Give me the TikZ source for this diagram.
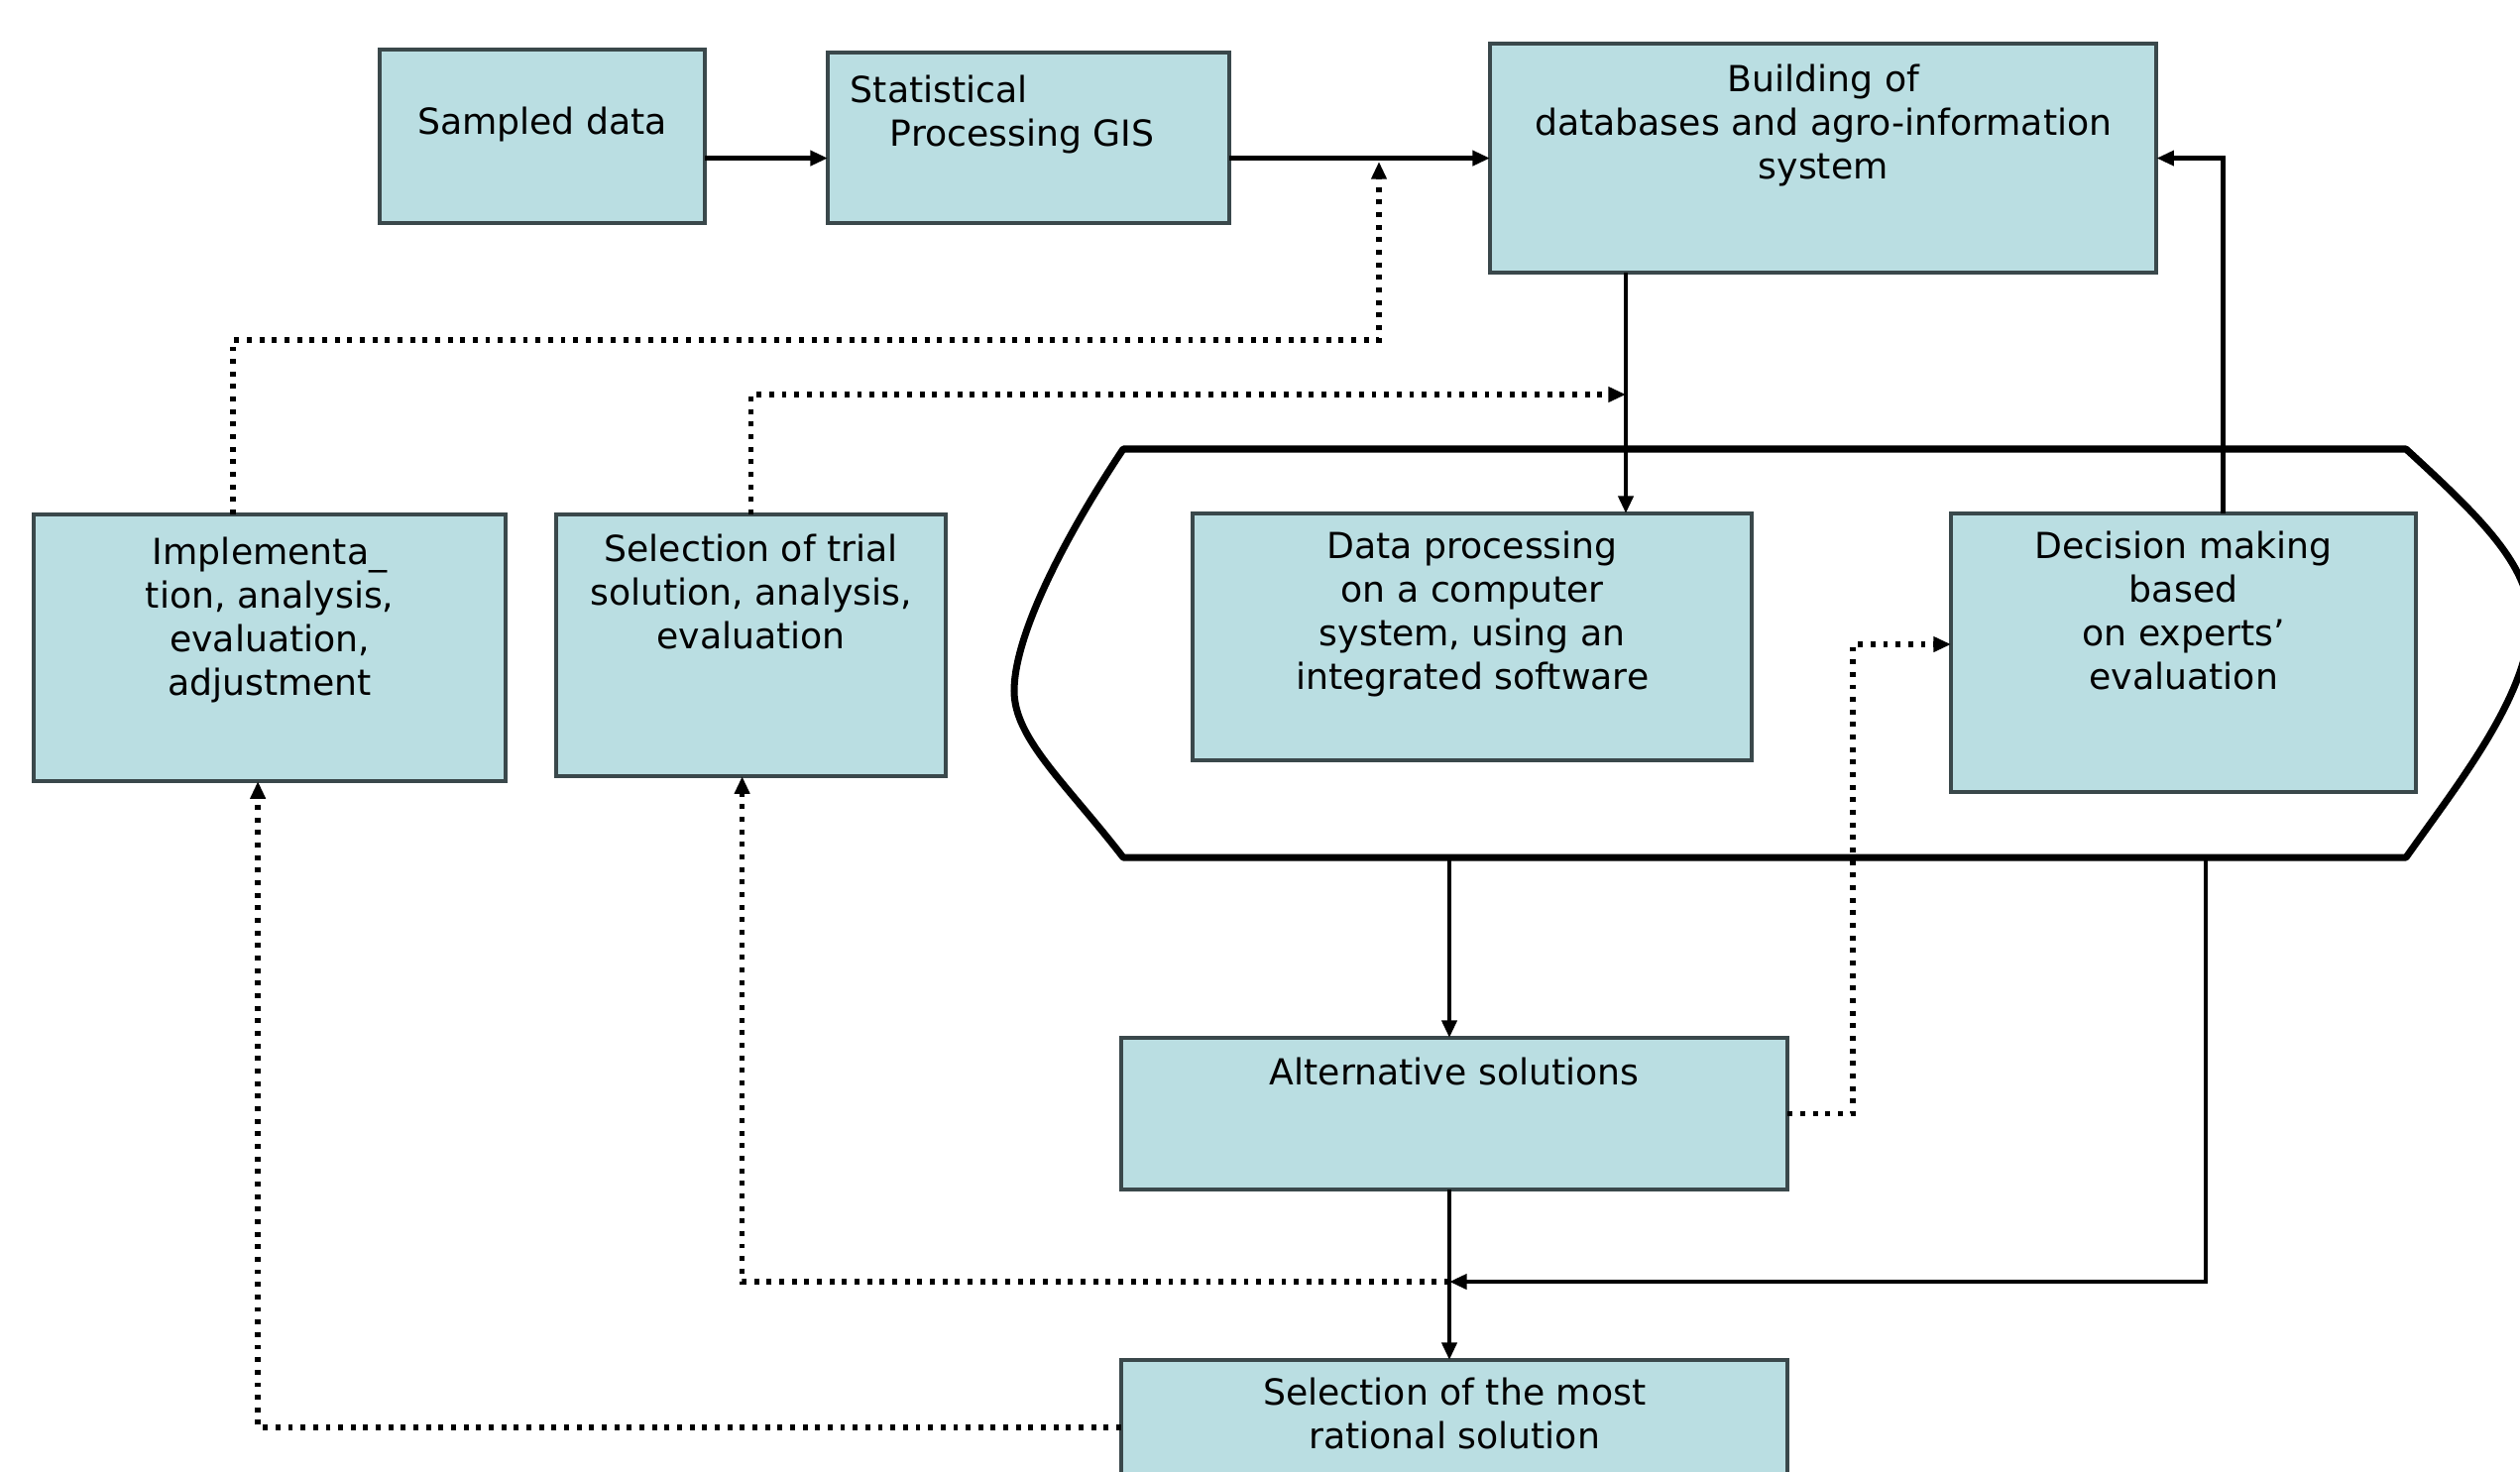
\documentclass[tikz,border=0pt]{standalone}
\usepackage{fontspec}
\setmainfont{DejaVu Sans}
\usetikzlibrary{arrows.meta}
\definecolor{cajaazul}{RGB}{186,222,226}
\definecolor{bordecaja}{RGB}{58,72,75}

\begin{document}
\begin{tikzpicture}[x=0.01cm, y=-0.01cm,
        caja/.style={draw=bordecaja, line width=1.1pt, fill=cajaazul,
            inner sep=0pt, outer sep=0pt, anchor=north west},
        texto/.style={inner sep=0pt, align=center, anchor=north,
            font=\fontsize{10.3}{12.5}\selectfont},
        flecha/.style={line width=1.4pt, -{Triangle[length=5pt,width=4.2pt]}},
        punteado/.style={line width=1.6pt, dash pattern=on 1.4pt off 2.2pt,
            -{Triangle[length=5pt,width=4.2pt]}}]
        % Fija el marco de la figura.
        \useasboundingbox (0,0) rectangle (2542,1484);
        \clip (0,0) rectangle (2542,1484);

        % Dibuja las cajas de la fila superior.
        \node[caja, minimum width=3.28cm, minimum height=1.75cm,
            label={[texto, yshift=-16.2pt]north:Sampled data}] (sampled) at (383,50) {};
        \node[caja, minimum width=4.05cm, minimum height=1.72cm,
            label={[texto, align=left, anchor=north west, xshift=6.3pt, yshift=-6.4pt]north west:{Statistical\\\hspace{11.4pt}Processing GIS}}] (stat) at (835,53) {};
        \node[caja, minimum width=6.72cm, minimum height=2.31cm,
            label={[texto, yshift=-5.7pt]north:{Building of\\databases and agro-information\\system}}] (db) at (1503,44) {};

        % Dibuja el contorno que agrupa el procesamiento y la decisión.
        \coordinate (gtl) at (1133,453);
        \coordinate (gtr) at (2427,453);
        \coordinate (gbr) at (2427,865);
        \coordinate (gbl) at (1133,865);
        \draw[line width=2pt, line join=round] (gtl) -- (gtr)
            .. controls (2500,520) and (2552,570) .. (2552,625)
            .. controls (2552,700) and (2480,790) .. (gbr) -- (gbl)
            .. controls (1075,790) and (1023,745) .. (1023,697)
            .. controls (1023,640) and (1075,540) .. (gtl) -- cycle;

        % Dibuja las cajas de la fila central.
        \node[caja, minimum width=4.76cm, minimum height=2.69cm,
            label={[texto, yshift=-6.3pt]north:{Implementa\_\\tion, analysis,\\evaluation,\\adjustment}}] (impl) at (34,519) {};
        \node[caja, minimum width=3.93cm, minimum height=2.64cm,
            label={[texto, yshift=-5.5pt]north:{Selection of trial\\solution, analysis,\\evaluation}}] (trial) at (561,519) {};
        \node[caja, minimum width=5.64cm, minimum height=2.49cm,
            label={[texto, yshift=-5pt]north:{Data processing\\on a computer\\system, using an\\integrated software}}] (proc) at (1203,518) {};
        \node[caja, minimum width=4.69cm, minimum height=2.81cm,
            label={[texto, yshift=-5pt]north:{Decision making\\based\\on experts’\\evaluation}}] (dec) at (1968,518) {};

        % Dibuja las cajas inferiores.
        \node[caja, minimum width=6.72cm, minimum height=1.53cm,
            label={[texto, yshift=-5.6pt]north:Alternative solutions}] (alt) at (1131,1047) {};
        \node[caja, minimum width=6.72cm, minimum height=1.36cm,
            label={[texto, yshift=-4.8pt]north:{Selection of the most\\rational solution}}] (best) at (1131,1372) {};

        % Define los puntos de unión de los conectores.
        \coordinate (p0) at (1391,343);
        \coordinate (p1) at (1391,163);
        \coordinate (p2) at (1640,398);
        \coordinate (p3) at (1869,650);
        \coordinate (p4) at (1462,1293);
        \coordinate (p5) at (2225,865);

        % Dibuja los conectores continuos.
        \draw[flecha] (sampled.east |- db.west) -- (stat.west |- db.west);
        \draw[flecha] (stat.east |- db.west) -- (db.west);
        \draw[flecha] (db.south -| p2) -- (proc.north -| p2);
        \draw[flecha] ([xshift=0.40cm]dec.north) |- (db.east);
        \draw[flecha] (gbl -| p4) -- (alt.north -| p4);
        \draw[flecha] (alt.south -| p4) -- (best.north -| p4);
        \draw[flecha] (p5) |- (p4);

        % Dibuja los conectores punteados de retroalimentación.
        \draw[punteado] ([xshift=-0.37cm]impl.north) |- (p0) -- (p1);
        \draw[punteado] (trial.north) |- (p2);
        \draw[punteado] (alt.east) -| (p3) -- (p3 -| dec.west);
        \draw[punteado] (p4) -| ([xshift=-0.09cm]trial.south);
        \draw[punteado] (best.west) -| ([xshift=-0.12cm]impl.south);
\end{tikzpicture}
\end{document}
